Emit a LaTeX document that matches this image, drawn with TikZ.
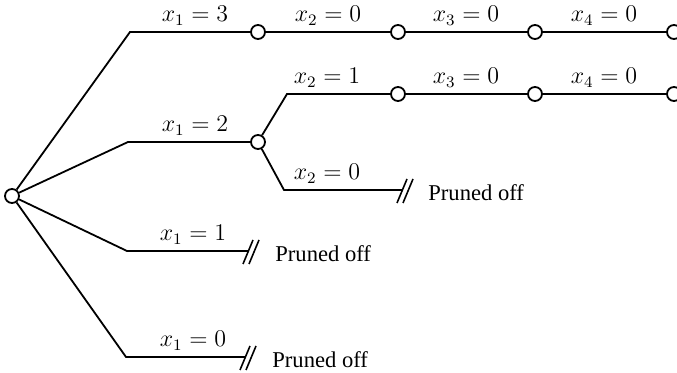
\documentclass[tikz,border=0pt]{standalone}
\usepackage{fontspec}
\setmainfont{Liberation Serif}
\usetikzlibrary{calc}
\begin{document}
\begin{tikzpicture}[x=0.5pt,y=-0.5pt,
  vtx/.style={circle,draw,fill=white,line width=0.9pt,minimum size=7pt,inner sep=0pt},
  edge/.style={line width=0.9pt},
  lbl/.style={anchor=base,font=\fontsize{11.5}{13}\selectfont,inner sep=0pt},
  prune/.style={anchor=base west,font=\fontsize{11.3}{13}\selectfont,inner sep=0pt},
  cut/.style={line width=0.8pt}]
\useasboundingbox (0,0) rectangle (677,373);
\begin{scope}
\clip (0,0) rectangle (677,373);
% corners
\coordinate (k3) at (130,32);
\coordinate (k2) at (128,142);
\coordinate (k1) at (127,251);
\coordinate (k0) at (126,357);
\coordinate (k21) at (287,94);
\coordinate (k20) at (284,190);
\coordinate (e20) at (402,190);
\coordinate (e1) at (248,251);
\coordinate (e0) at (245,357);
% vertices
\node[vtx] (r) at (12,196) {};
\node[vtx] (a1) at (258,32) {};
\node[vtx] (a2) at (398,32) {};
\node[vtx] (a3) at (535,32) {};
\node[vtx] (a4) at (674,32) {};
\node[vtx] (b1) at (258,142) {};
\node[vtx] (b2) at (398,94) {};
\node[vtx] (b3) at (535,94) {};
\node[vtx] (b4) at (674,94) {};
% edges
\draw[edge] (r) -- (k3) -- (a1);
\draw[edge] (a1) -- (a2);
\draw[edge] (a2) -- (a3);
\draw[edge] (a3) -- (a4);
\draw[edge] (r) -- (k2) -- (b1);
\draw[edge] (b1) -- (k21) -- (b2);
\draw[edge] (b2) -- (b3);
\draw[edge] (b3) -- (b4);
\draw[edge] (b1) -- (k20) -- (e20);
\draw[edge] (r) -- (k1) -- (e1);
\draw[edge] (r) -- (k0) -- (e0);
% cut marks
\foreach \e in {e20,e1,e0}{
  \draw[cut] ($(\e)+(-5,13)$) -- ($(\e)+(5,-11)$);
  \draw[cut] ($(\e)+(1,13)$) -- ($(\e)+(11,-11)$);
}
% labels
\node[lbl] (l13) at (195,22) {$x_1 = 3$};
\node[lbl] (l20a) at (328,22) {$x_2 = 0$};
\node[lbl] (l30a) at (466,22) {$x_3 = 0$};
\node[lbl] (l40a) at (604,22) {$x_4 = 0$};
\node[lbl] (l21) at (327,84) {$x_2 = 1$};
\node[lbl] (l30b) at (466,84) {$x_3 = 0$};
\node[lbl] (l40b) at (604,84) {$x_4 = 0$};
\node[lbl] (l12) at (195,132) {$x_1 = 2$};
\node[lbl] (l20b) at (327,180) {$x_2 = 0$};
\node[lbl] (l11) at (193,241) {$x_1 = 1$};
\node[lbl] (l10) at (193,347) {$x_1 = 0$};
\node[prune] (p20) at (428,201) {Pruned off};
\node[prune] (p1) at (275,262) {Pruned off};
\node[prune] (p0) at (272,368) {Pruned off};
\end{scope}
\end{tikzpicture}
\end{document}
